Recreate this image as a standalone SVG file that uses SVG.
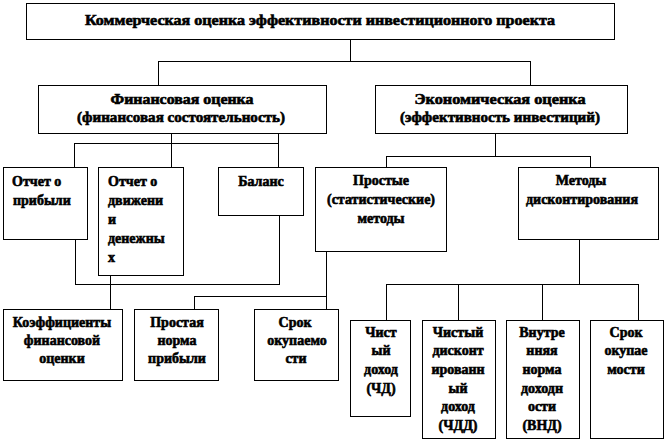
<svg xmlns="http://www.w3.org/2000/svg" width="666" height="443" viewBox="0 0 666 443">
<style>
rect{fill:#fff;stroke:#000;stroke-width:1}
.c path{fill:none;stroke:#000;stroke-width:1}
text{font-weight:bold;font-size:14px;fill:#000;stroke:#000;stroke-width:0.6}
.m{text-anchor:middle}
</style>
<rect x="0" y="0" width="666" height="443" style="stroke:none"/>
<g class="c">
<path d="M350.5,39 V61.5 M158,61.5 H531 M158.5,61 V85 M530.5,61 V85"/>
<path d="M171.5,133 V167 M278.5,133 V167 M74,143.5 H279 M74.5,143 V167"/>
<path d="M495.5,133 V156.5 M386,156.5 H591 M386.5,156 V167 M590.5,156 V167"/>
<path d="M75.5,239 V284.5 M75,284.5 H280 M279.5,215 V284.5 M110.5,275 V309"/>
<path d="M326.5,251 V309 M194,296.5 H327 M194.5,296 V309"/>
<path d="M579.5,239 V284.5 M386,284.5 H639 M386.5,284 V320 M458.5,284 V320 M542.5,284 V320 M638.5,284 V320"/>
</g>
<g font-family="Liberation Serif, DejaVu Serif, serif">
<g id="top"><rect x="26.5" y="3.5" width="588" height="36"/>
<text class="m" x="320" y="25" font-size="15" textLength="470" lengthAdjust="spacingAndGlyphs">Коммерческая оценка эффективности инвестиционного проекта</text></g>
<g id="fin"><rect x="38.5" y="85.5" width="288" height="48"/>
<text class="m" x="182" y="104" textLength="143" lengthAdjust="spacingAndGlyphs">Финансовая оценка</text>
<text class="m" x="181" y="122" textLength="208" lengthAdjust="spacingAndGlyphs">(финансовая состоятельность)</text></g>
<g id="econ"><rect x="375.5" y="85.5" width="252" height="48"/>
<text class="m" x="500" y="104" textLength="171" lengthAdjust="spacingAndGlyphs">Экономическая оценка</text>
<text class="m" x="500" y="122" textLength="200" lengthAdjust="spacingAndGlyphs">(эффективность инвестиций)</text></g>
<g id="pribyl"><rect x="3.5" y="167.5" width="84" height="72"/>
<text x="12" y="186">Отчет о</text><text x="13" y="205">прибыли</text></g>
<g id="dvizh"><rect x="98.5" y="167.5" width="85" height="108"/>
<text x="108" y="186">Отчет о</text><text x="108" y="205">движени</text><text x="108" y="224">и</text><text x="108" y="243">денежны</text><text x="108" y="262">х</text></g>
<g id="balans"><rect x="218.5" y="167.5" width="85" height="48"/>
<text class="m" x="261" y="186">Баланс</text></g>
<g id="prostye"><rect x="315.5" y="167.5" width="131" height="84"/>
<text class="m" x="381" y="185">Простые</text>
<text class="m" x="381" y="204" textLength="108" lengthAdjust="spacingAndGlyphs">(статистические)</text>
<text class="m" x="381" y="223">методы</text></g>
<g id="metody"><rect x="518.5" y="167.5" width="140" height="72"/>
<text class="m" x="581" y="185">Методы</text>
<text class="m" x="582" y="204" textLength="112" lengthAdjust="spacingAndGlyphs">дисконтирования</text></g>
<g id="koef"><rect x="3.5" y="309.5" width="119" height="71"/>
<text class="m" x="62" y="327">Коэффициенты</text><text class="m" x="62" y="345">финансовой</text><text class="m" x="62" y="363">оценки</text></g>
<g id="norma"><rect x="134.5" y="309.5" width="84" height="71"/>
<text class="m" x="177" y="327">Простая</text><text class="m" x="177" y="345">норма</text><text class="m" x="177" y="363">прибыли</text></g>
<g id="srok1"><rect x="254.5" y="309.5" width="84" height="71"/>
<text class="m" x="295" y="327">Срок</text><text class="m" x="297" y="345">окупаемо</text><text class="m" x="296" y="363">сти</text></g>
<g id="chd"><rect x="350.5" y="320.5" width="60" height="96"/>
<text class="m" x="381" y="337">Чист</text><text class="m" x="381" y="355">ый</text><text class="m" x="381" y="374">доход</text><text class="m" x="381" y="393">(ЧД)</text></g>
<g id="chdd"><rect x="422.5" y="320.5" width="73" height="118"/>
<text class="m" x="458" y="337">Чистый</text><text class="m" x="458" y="355">дисконт</text><text class="m" x="458" y="374">ированн</text><text class="m" x="458" y="393">ый</text><text class="m" x="458" y="411">доход</text><text class="m" x="458" y="430">(ЧДД)</text></g>
<g id="vnd"><rect x="506.5" y="320.5" width="73" height="118"/>
<text class="m" x="542" y="337">Внутре</text><text class="m" x="542" y="355">нняя</text><text class="m" x="542" y="374">норма</text><text class="m" x="542" y="393">доходн</text><text class="m" x="542" y="411">ости</text><text class="m" x="542" y="430">(ВНД)</text></g>
<g id="srok2"><rect x="590.5" y="320.5" width="73" height="118"/>
<text class="m" x="626" y="337">Срок</text><text class="m" x="626" y="355">окупае</text><text class="m" x="626" y="374">мости</text></g>
</g>
</svg>
